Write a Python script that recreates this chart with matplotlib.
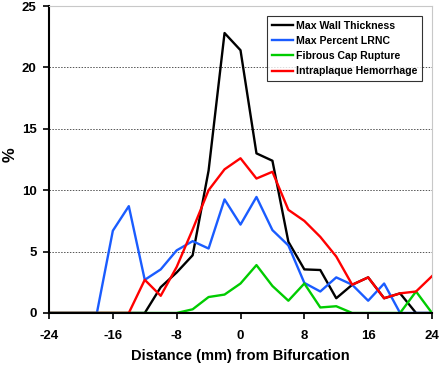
import matplotlib.pyplot as plt
import numpy as np

plt.rcParams['font.family'] = ['Liberation Sans', 'DejaVu Sans']
plt.rcParams['font.weight'] = 'bold'
plt.rcParams['axes.unicode_minus'] = False

# distance from bifurcation (mm), sampled every 2 mm
distance = np.arange(-24, 25, 2)

wall_thickness = [0, 0, 0, 0, 0, 0, 0, 2.1, 3.3, 4.7, 11.6, 22.8, 21.4,
                  13.0, 12.4, 5.8, 3.55, 3.5, 1.2, 2.3, 2.9, 1.2, 1.6, 0, 0]
percent_lrnc = [0, 0, 0, 0, 6.7, 8.7, 2.7, 3.55, 5.1, 5.85, 5.25, 9.25, 7.2,
                9.45, 6.75, 5.5, 2.45, 1.75, 2.9, 2.3, 1.0, 2.4, 0, 0, 0]
cap_rupture = [0, 0, 0, 0, 0, 0, 0, 0, 0, 0.3, 1.3, 1.5, 2.4,
               3.9, 2.2, 1.0, 2.4, 0.45, 0.55, 0, 0, 0, 0, 1.75, 0]
hemorrhage = [0, 0, 0, 0, 0, 0, 2.7, 1.4, 3.75, 6.8, 10.0, 11.7, 12.6,
              10.95, 11.5, 8.4, 7.5, 6.2, 4.6, 2.3, 2.9, 1.2, 1.6, 1.75, 3.0]

series = [
    ("Max Wall Thickness", wall_thickness, "black"),
    ("Max Percent LRNC", percent_lrnc, "#1a5cff"),
    ("Fibrous Cap Rupture", cap_rupture, "#00cc00"),
    ("Intraplaque Hemorrhage", hemorrhage, "#ff0000"),
]

fig = plt.figure(figsize=(4.4, 3.65), dpi=100)
ax = fig.add_axes([0.1114, 0.1425, 0.8704, 0.841])

for label, values, color in series:
    ax.plot(distance, values, color=color, lw=1.7, label=label)

ax.set_xlim(-24, 24)
ax.set_ylim(0, 25)
ax.set_xticks(np.arange(-24, 25, 8))
ax.set_yticks(np.arange(0, 26, 5))

for y in [5, 10, 15, 20]:
    ax.axhline(y, color='#555555', lw=0.7, ls=(0, (1.5, 1.5)), zorder=0)

ax.spines['top'].set_color('#c8c8c8')
ax.spines['right'].set_color('#c8c8c8')
ax.spines['left'].set_linewidth(1.5)
ax.spines['bottom'].set_linewidth(1.5)
ax.tick_params(axis='both', labelsize=9.5, width=1.2, length=4)
ax.tick_params(axis='x', pad=8)
ax.tick_params(axis='y', pad=5)

# axis titles placed in figure pixels to match the reference
fig.text(240 / 440, 1 - 356 / 365, "Distance (mm) from Bifurcation",
         fontsize=10.5, fontweight='bold', ha='center', va='center')
fig.text(10 / 440, 1 - 155 / 365, "%", fontsize=12, fontweight='bold',
         rotation=90, ha='center', va='center')

leg = ax.legend(loc='upper right', bbox_to_anchor=(0.98, 0.975), fontsize=7.6,
                frameon=True, fancybox=False, edgecolor='black',
                handlelength=2.0, borderpad=0.45, labelspacing=0.5,
                handletextpad=0.3, borderaxespad=0.2)
leg.get_frame().set_linewidth(0.8)

fig.savefig("out.png", dpi=100)
